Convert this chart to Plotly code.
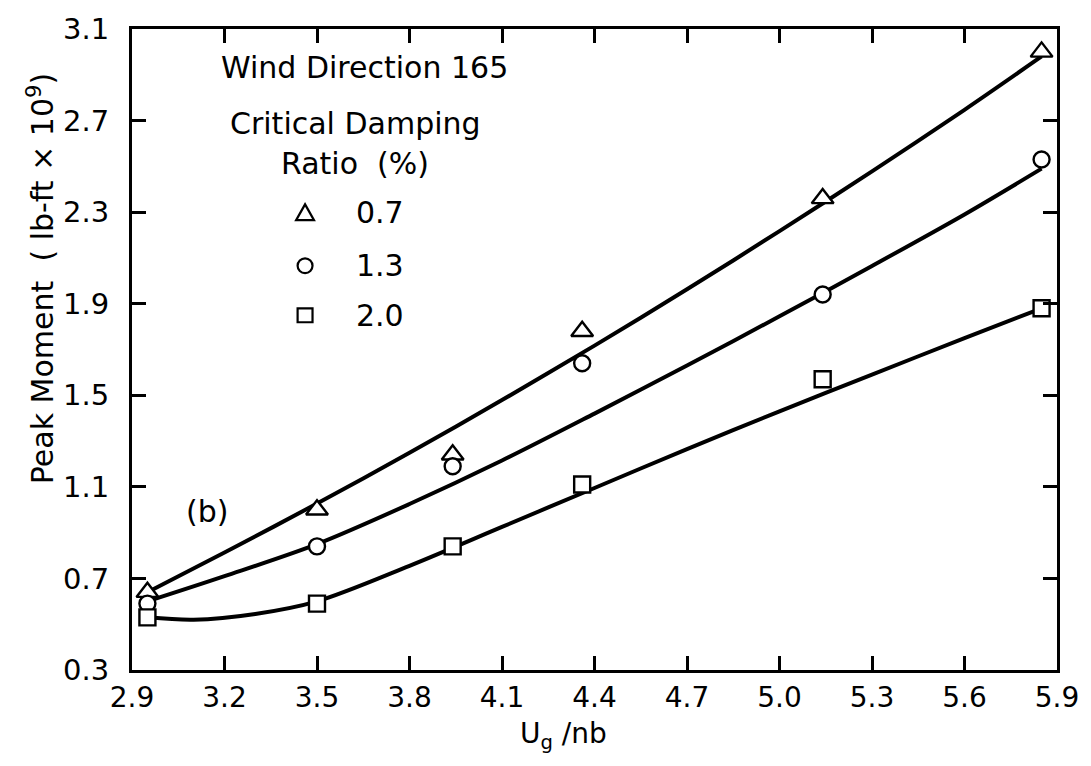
import plotly.graph_objects as go

# Measured peak moments for wind direction 165
ug_nb = [2.95, 3.50, 3.94, 4.36, 5.14, 5.85]
moment_07 = [0.64, 1.00, 1.24, 1.78, 2.36, 3.00]
moment_13 = [0.59, 0.84, 1.19, 1.64, 1.94, 2.53]
moment_20 = [0.53, 0.59, 0.84, 1.11, 1.57, 1.88]

# Smoothed fit curves, read at fixed abscissae
fit_x = [2.95, 3.2, 3.5, 3.8, 4.1, 4.4, 4.7, 5.0, 5.3, 5.6, 5.85]
fit_07 = [0.640, 0.813, 1.027, 1.249, 1.479, 1.717, 1.963, 2.217, 2.478, 2.747, 2.980]
fit_13 = [0.600, 0.710, 0.850, 1.025, 1.215, 1.420, 1.630, 1.845, 2.065, 2.290, 2.490]
fit20_x = [2.95, 3.1, 3.3, 3.5, 3.8, 4.1, 4.4, 4.7, 5.0, 5.3, 5.6, 5.85]
fit_20 = [0.530, 0.520, 0.545, 0.600, 0.755, 0.925, 1.095, 1.265, 1.430, 1.590, 1.750, 1.880]

x_ticks = [2.9, 3.2, 3.5, 3.8, 4.1, 4.4, 4.7, 5.0, 5.3, 5.6, 5.9]
x_ticktext = ["2.9", "3.2", "3.5", "3.8", "4.1", "4.4", "4.7", "5.0", "5.3", "5.6", "5.9"]
y_ticks = [0.3, 0.7, 1.1, 1.5, 1.9, 2.3, 2.7, 3.1]
y_ticktext = ["0.3", "0.7", "1.1", "1.5", "1.9", "2.3", "2.7", "3.1"]

FONT = "DejaVu Sans"
INK = "black"

fig = go.Figure()

for fx, fy in ((fit_x, fit_07), (fit_x, fit_13), (fit20_x, fit_20)):
    fig.add_trace(go.Scatter(
        x=fx, y=fy, mode="lines",
        line=dict(color=INK, width=4, shape="spline", smoothing=0.9),
        showlegend=False, hoverinfo="skip",
    ))

for ys, sym, sz in ((moment_07, "triangle-up", 19), (moment_13, "circle", 16), (moment_20, "square", 16)):
    fig.add_trace(go.Scatter(
        x=ug_nb, y=ys, mode="markers",
        marker=dict(symbol=sym, size=sz, color="white",
                    line=dict(color=INK, width=2.4)),
        showlegend=False,
    ))

W, H = 1091, 766
ML, MR, MT, MB = 132, 29, 23, 96
PW, PH = W - ML - MR, H - MT - MB


def px(xp):
    return (xp - ML) / PW


def py(yp):
    return (H - MB - yp) / PH


# Key glyphs drawn as shapes in paper space
gx = 306
rows = {"tri": 208, "cir": 262, "sq": 312}
ty = rows["tri"]
fig.add_shape(type="path", xref="paper", yref="paper",
              path=(f"M {px(gx - 9)} {py(ty + 8)} L {px(gx + 9)} {py(ty + 8)} "
                    f"L {px(gx)} {py(ty - 8)} Z"),
              line=dict(color=INK, width=2.2))
cy = rows["cir"]
fig.add_shape(type="circle", xref="paper", yref="paper",
              x0=px(gx - 7.5), x1=px(gx + 7.5), y0=py(cy + 7.5), y1=py(cy - 7.5),
              line=dict(color=INK, width=2.2))
sy = rows["sq"]
fig.add_shape(type="rect", xref="paper", yref="paper",
              x0=px(gx - 7.5), x1=px(gx + 7.5), y0=py(sy + 7), y1=py(sy - 7),
              line=dict(color=INK, width=2.2))

labels = [
    ("Wind Direction 165", 366, 62),
    ("Critical Damping", 357, 118),
    ("Ratio  (%)", 356, 159),
    ("0.7", 381, 208),
    ("1.3", 381, 262),
    ("2.0", 381, 312),
    ("(b)", 207, 510),
]
for txt, xp, yp in labels:
    fig.add_annotation(text=txt, xref="paper", yref="paper", x=px(xp), y=py(yp),
                       showarrow=False, xanchor="center", yanchor="middle",
                       font=dict(family=FONT, size=30, color=INK))

fig.add_annotation(text="U<sub>g</sub> /nb", xref="paper", yref="paper",
                   x=px(566), y=py(736), showarrow=False,
                   xanchor="center", yanchor="middle",
                   font=dict(family=FONT, size=28, color=INK))

fig.add_annotation(text="Peak Moment  ( lb-ft \u00d7 10<sup>9</sup>)", xref="paper", yref="paper",
                   x=px(41), y=py(275), showarrow=False, textangle=-90,
                   xanchor="center", yanchor="middle",
                   font=dict(family=FONT, size=30, color=INK))

axis_common = dict(
    showline=True, linecolor=INK, linewidth=3, mirror="ticks",
    ticks="inside", ticklen=14, tickwidth=2.5, tickcolor=INK,
    showgrid=False, zeroline=False,
)

fig.update_xaxes(range=[2.9, 5.9], tickvals=x_ticks, ticktext=x_ticktext,
                 tickfont=dict(family=FONT, size=28, color=INK), **axis_common)
fig.update_yaxes(range=[0.3, 3.1], tickvals=y_ticks, ticktext=y_ticktext,
                 tickfont=dict(family=FONT, size=29, color=INK),
                 ticklabelstandoff=14, **axis_common)

fig.update_layout(
    width=W, height=H,
    margin=dict(l=ML, r=MR, t=MT, b=MB),
    paper_bgcolor="white", plot_bgcolor="white",
    showlegend=False,
)

fig.write_html("out.html")
